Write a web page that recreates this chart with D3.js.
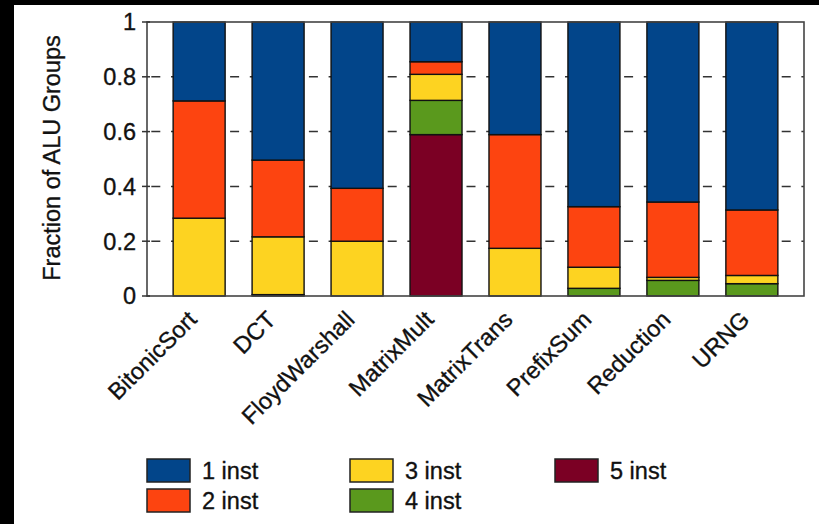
<!DOCTYPE html>
<html><head><meta charset="utf-8">
<script src="https://cdn.jsdelivr.net/npm/d3@7"></script>
<style>
html,body{margin:0;padding:0;background:#000;}
svg{display:block;}
text{font-family:"Liberation Sans",Arial,Helvetica,sans-serif;fill:#111;stroke:#111;stroke-width:0.35px;}
</style></head>
<body>
<svg id="chart" width="819" height="524"></svg>
<script>
const categories = ["BitonicSort","DCT","FloydWarshall","MatrixMult","MatrixTrans","PrefixSum","Reduction","URNG"];
const seriesNames = ["1 inst","2 inst","3 inst","4 inst","5 inst"];
const inst1 = [0.288,0.504,0.607,0.145,0.411,0.674,0.657,0.686];
const inst2 = [0.428,0.280,0.193,0.046,0.415,0.221,0.275,0.239];
const inst3 = [0.284,0.211,0.200,0.095,0.174,0.077,0.011,0.030];
const inst4 = [0.000,0.005,0.000,0.125,0.000,0.028,0.057,0.045];
const inst5 = [0.000,0.000,0.000,0.589,0.000,0.000,0.000,0.000];
const colors = ["#02458a","#fd4410","#fdd321","#5a991d","#7b0024"];
const yTicks = [0,0.2,0.4,0.6,0.8,1];
const yTickLabels = ["0","0.2","0.4","0.6","0.8","1"];

const svg = d3.select("#chart");
svg.append("rect").attr("x",14).attr("y",5).attr("width",805).attr("height",519).attr("fill","#fff");

const L=147,R=804,T=22,B=296;
const x = d3.scaleBand().domain(categories).range([L,R]).paddingInner(0.3415).paddingOuter(0.331);
const y = d3.scaleLinear().domain([0,1]).range([B,T]);

// grid
const g = svg.append("g");
g.selectAll("line.grid").data(yTicks.filter(t=>t>0&&t<1)).join("line")
  .attr("x1",L+2).attr("x2",R).attr("y1",d=>y(d)).attr("y2",d=>y(d))
  .attr("stroke","#333").attr("stroke-width",1.5)
  .attr("stroke-dasharray","9 10.7").attr("stroke-dashoffset",-2.3);

// stacked bars: order bottom-up 5,4,3,2,1
const rows = categories.map((c,i)=>({cat:c,"1 inst":inst1[i],"2 inst":inst2[i],"3 inst":inst3[i],"4 inst":inst4[i],"5 inst":inst5[i]}));
const stackKeys = ["5 inst","4 inst","3 inst","2 inst","1 inst"];
const stack = d3.stack().keys(stackKeys)(rows);
stack.forEach(layer=>{
  const col = colors[seriesNames.indexOf(layer.key)];
  svg.append("g").selectAll("rect").data(layer.filter(d=>d[1]-d[0]>0)).join("rect")
    .attr("x",d=>x(d.data.cat)).attr("width",x.bandwidth())
    .attr("y",d=>y(Math.min(1,d[1]))).attr("height",d=>y(d[0])-y(Math.min(1,d[1])))
    .attr("fill",col).attr("stroke","#111").attr("stroke-width",1.4);
});

// frame
svg.append("rect").attr("x",L).attr("y",T).attr("width",R-L).attr("height",B-T)
  .attr("fill","none").attr("stroke","#444").attr("stroke-width",1.6);

// y axis ticks
const yAxis = svg.append("g");
yAxis.selectAll("line").data(yTicks).join("line")
  .attr("x1",L-5).attr("x2",L+3).attr("y1",d=>y(d)).attr("y2",d=>y(d))
  .attr("stroke","#333").attr("stroke-width",1.5);
yAxis.selectAll("text").data(yTicks).join("text")
  .attr("x",136).attr("y",d=>y(d)).attr("dy","0.36em").attr("text-anchor","end")
  .attr("font-size",23.5).text((d,i)=>yTickLabels[i]);

svg.append("text").attr("transform","translate(60,158) rotate(-90)")
  .attr("text-anchor","middle").attr("font-size",23.5).text("Fraction of ALU Groups");

// x labels
svg.append("g").selectAll("text").data(categories).join("text")
  .attr("transform",d=>`translate(${x(d)+x.bandwidth()/2-1},${B+25}) rotate(-45)`)
  .attr("text-anchor","end").attr("font-size",23.5).text(d=>d);

// legend
const legendPos = [[147,459],[147,489],[350,459],[350,489],[555,459]];
const lg = svg.append("g");
seriesNames.forEach((s,i)=>{
  const [lx,ly]=legendPos[i];
  lg.append("rect").attr("x",lx).attr("y",ly).attr("width",43).attr("height",23)
    .attr("fill",colors[i]).attr("stroke","#222").attr("stroke-width",1.5);
  lg.append("text").attr("x",lx+55).attr("y",ly+11.5).attr("dy","0.36em")
    .attr("font-size",23.5).text(s);
});
</script>
</body></html>
